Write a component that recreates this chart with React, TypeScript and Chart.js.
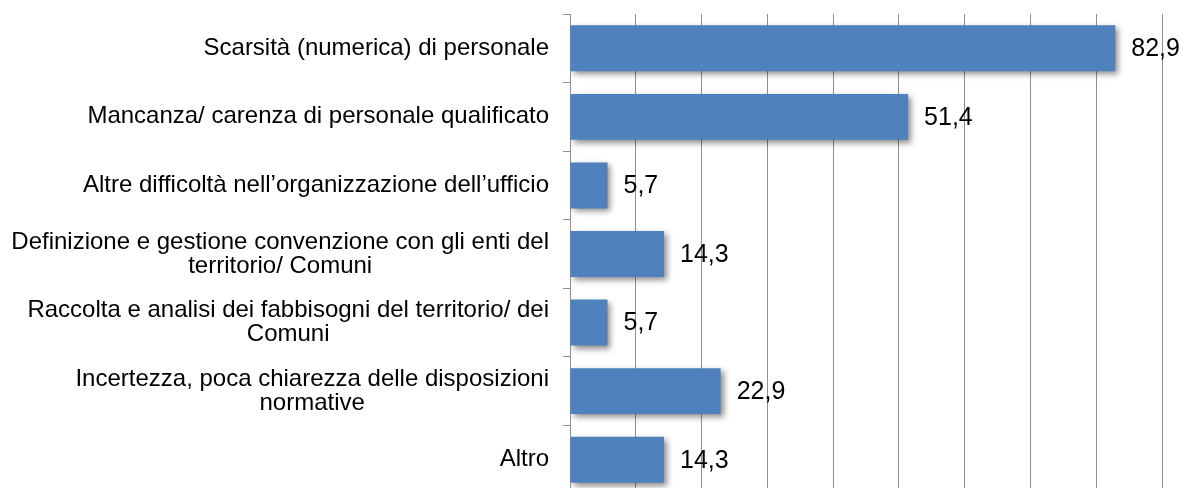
import React, { useEffect, useRef } from "react";
import { Chart, registerables } from "chart.js";

Chart.register(...registerables);

const CATEGORIES: string[][] = [
  ["Scarsità (numerica) di personale"],
  ["Mancanza/ carenza di personale qualificato"],
  ["Altre difficoltà nell’organizzazione dell’ufficio"],
  ["Definizione e gestione convenzione con gli enti del", "territorio/ Comuni"],
  ["Raccolta e analisi dei fabbisogni del territorio/ dei", "Comuni"],
  ["Incertezza, poca chiarezza delle disposizioni", "normative"],
  ["Altro"],
];
const VALUES: number[] = [82.9, 51.4, 5.7, 14.3, 5.7, 22.9, 14.3];
const X_MIN = 0;
const X_MAX = 90;
const X_STEP = 10;

const FONT = '"Liberation Sans", Arial, sans-serif';
const BAR_COLOR = "#4F81BD";
const GRID_COLOR = "#8F8F8F";

const shadowPlugin = {
  id: "barShadow",
  beforeDatasetsDraw(chart: any) {
    const ctx = chart.ctx;
    ctx.save();
    ctx.shadowColor = "rgba(0,0,0,0.45)";
    ctx.shadowBlur = 6;
    ctx.shadowOffsetX = 3;
    ctx.shadowOffsetY = 3;
  },
  afterDatasetsDraw(chart: any) {
    chart.ctx.restore();
  },
};

const labelPlugin = {
  id: "customLabels",
  afterDraw(chart: any) {
    const ctx = chart.ctx;
    const yScale = chart.scales.y;
    const labels = chart.data.labels as string[][];
    const right = chart.chartArea.left - 21;
    const lh = 24;
    ctx.save();
    ctx.fillStyle = "#000000";
    ctx.font = `24px ${FONT}`;
    ctx.textBaseline = "middle";
    ctx.textAlign = "center";
    labels.forEach((lines, i) => {
      const yc = yScale.getPixelForValue(i);
      const w = Math.max(...lines.map((l) => ctx.measureText(l).width));
      const cx = right - w / 2;
      const y0 = yc - ((lines.length - 1) * lh) / 2;
      lines.forEach((l, j) => ctx.fillText(l, cx, y0 + j * lh));
    });
    // value labels
    ctx.font = `25px ${FONT}`;
    ctx.textAlign = "left";
    const meta = chart.getDatasetMeta(0);
    meta.data.forEach((bar: any, i: number) => {
      const v = chart.data.datasets[0].data[i] as number;
      ctx.fillText(v.toFixed(1).replace(".", ","), bar.x + 16, bar.y + 1);
    });
    ctx.restore();
  },
};

export default function App() {
  const ref = useRef<HTMLCanvasElement>(null);
  useEffect(() => {
    if (!ref.current) return;
    const chart = new Chart(ref.current, {
      type: "bar",
      data: {
        labels: CATEGORIES as any,
        datasets: [
          {
            data: VALUES,
            backgroundColor: BAR_COLOR,
            borderWidth: 0,
            barPercentage: 0.67,
            categoryPercentage: 1,
          },
        ],
      },
      options: {
        indexAxis: "y",
        responsive: false,
        animation: false,
        events: [],
        layout: { padding: { left: 0, top: 14, right: 22, bottom: 10 } },
        plugins: {
          legend: { display: false },
          tooltip: { enabled: false },
          title: { display: false },
        },
        scales: {
          x: {
            min: X_MIN,
            max: X_MAX,
            ticks: { display: false, stepSize: X_STEP },
            grid: {
              color: GRID_COLOR,
              lineWidth: 1,
              drawTicks: false,
            },
            border: { display: false },
            afterFit(scale: any) {
              scale.height = 0;
            },
          },
          y: {
            ticks: { display: false },
            grid: {
              display: true,
              drawOnChartArea: false,
              drawTicks: true,
              tickLength: 7,
              color: GRID_COLOR,
              offset: true,
            },
            border: { display: true, color: GRID_COLOR, width: 1 },
            afterFit(scale: any) {
              scale.width = 570;
            },
          },
        },
      },
      plugins: [shadowPlugin, labelPlugin],
    });
    return () => chart.destroy();
  }, []);

  return (
    <div
      style={{
        position: "fixed",
        left: 0,
        top: 0,
        width: 1184,
        height: 488,
        overflow: "hidden",
        background: "#ffffff",
      }}
    >
      <canvas ref={ref} width={1184} height={504} style={{ display: "block" }} />
    </div>
  );
}
